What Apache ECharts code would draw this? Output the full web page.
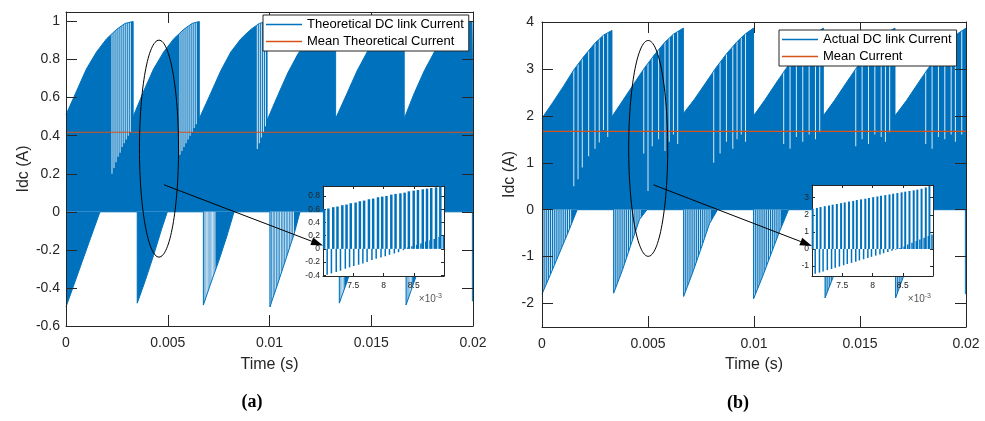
<!DOCTYPE html>
<html>
<head>
<meta charset="utf-8">
<script src="https://cdn.jsdelivr.net/npm/echarts@6/dist/echarts.min.js"></script>
<style>
  html, body { margin: 0; padding: 0; background: #fff; }
  #chart { width: 985px; height: 421px; }
</style>
</head>
<body>
<div id="chart"></div>
<script>
// (a) theoretical DC link current: envelope of the switching pulses
const timeUpperA = [
  0, 0.0005, 0.001, 0.0015, 0.002, 0.0025, 0.0029, 0.0033,
  0.0033, 0.0038, 0.0043, 0.0048, 0.0053, 0.0058, 0.0062, 0.00655,
  0.00655, 0.0071, 0.0076, 0.0081, 0.0086, 0.0091, 0.0095, 0.00988,
  0.00988, 0.0104, 0.0109, 0.0114, 0.0119, 0.0124, 0.0128, 0.01325,
  0.01325, 0.0138, 0.0143, 0.0148, 0.0153, 0.0158, 0.0162, 0.01662,
  0.01662, 0.0171, 0.0176, 0.0181, 0.0186, 0.0191, 0.0195, 0.01995, 0.02
]
const upperA = [
  0.51, 0.63, 0.75, 0.84, 0.91, 0.96, 0.99, 1.00,
  0.50, 0.63, 0.75, 0.84, 0.91, 0.96, 0.99, 1.00,
  0.49, 0.62, 0.74, 0.84, 0.91, 0.96, 0.99, 1.00,
  0.48, 0.61, 0.73, 0.83, 0.90, 0.96, 0.99, 1.00,
  0.49, 0.62, 0.74, 0.84, 0.91, 0.96, 0.99, 1.00,
  0.49, 0.62, 0.74, 0.84, 0.91, 0.96, 0.99, 1.00, 0.50
]
const timeLowerA = [
  0, 0.0004, 0.0008, 0.0012, 0.00167, 0.0035,
  0.0035, 0.0039, 0.0043, 0.0047, 0.00498, 0.00675,
  0.00675, 0.0071, 0.0075, 0.0079, 0.00826, 0.01002,
  0.01002, 0.0104, 0.0108, 0.0112, 0.0115, 0.01343,
  0.01343, 0.0138, 0.0142, 0.0146, 0.0149, 0.01671,
  0.01671, 0.0171, 0.0175, 0.0179, 0.0182, 0.01997, 0.01997, 0.02
]
const lowerA = [
  -0.50, -0.38, -0.26, -0.14, 0, 0,
  -0.48, -0.36, -0.23, -0.09, 0, 0,
  -0.49, -0.38, -0.26, -0.13, 0, 0,
  -0.50, -0.38, -0.25, -0.12, 0, 0,
  -0.48, -0.37, -0.24, -0.12, 0, 0,
  -0.49, -0.37, -0.25, -0.12, 0, 0, -0.47, -0.47
]
const meanA = 0.418
// gaps between pulses: white stripes down to a bottom level, and below zero
const gapTimeA = [
  0.00226, 0.00236, 0.00246, 0.00256, 0.00266, 0.00276, 0.00286, 0.00296, 0.00306, 0.00316,
  0.0056, 0.0057, 0.0058, 0.0059, 0.006, 0.0061, 0.0062, 0.0063, 0.0064,
  0.0094, 0.0095, 0.0096, 0.0097, 0.0098
]
const gapBottomA = [
  0.20, 0.23, 0.26, 0.29, 0.31, 0.34, 0.36, 0.38, 0.40, 0.42,
  0.30, 0.32, 0.34, 0.36, 0.38, 0.40, 0.42, 0.44, 0.46,
  0.33, 0.36, 0.39, 0.42, 0.45
]
const negGapTimeA = [
  0.00678, 0.00684, 0.0069, 0.00696, 0.00702, 0.00708, 0.00714, 0.0072, 0.00726, 0.00732,
  0.01006, 0.01014, 0.01022, 0.0103, 0.01038, 0.01046, 0.01054, 0.01062, 0.0107, 0.01078,
  0.01086, 0.01094, 0.01102, 0.0111, 0.01118,
  0.01347, 0.01353, 0.01359, 0.01365,
  0.01675, 0.01681, 0.01687, 0.01693, 0.01699
]

// (b) actual DC link current
const timeUpperB = [
  0, 0.0005, 0.001, 0.0015, 0.002, 0.0025, 0.0029, 0.0033,
  0.0033, 0.0038, 0.0043, 0.0048, 0.0053, 0.0058, 0.0062, 0.00667,
  0.00667, 0.0072, 0.0077, 0.0082, 0.0087, 0.0092, 0.0096, 0.00998,
  0.00998, 0.0105, 0.011, 0.0115, 0.012, 0.0125, 0.0129, 0.01327,
  0.01327, 0.0138, 0.0143, 0.0148, 0.0153, 0.0158, 0.0162, 0.01665,
  0.01665, 0.0172, 0.0177, 0.0182, 0.0187, 0.0192, 0.0196, 0.02
]
const upperB = [
  1.95, 2.28, 2.62, 2.98, 3.28, 3.55, 3.72, 3.82,
  1.98, 2.32, 2.66, 3.00, 3.30, 3.57, 3.74, 3.87,
  2.05, 2.36, 2.69, 3.02, 3.32, 3.58, 3.75, 3.87,
  2.00, 2.33, 2.67, 3.00, 3.31, 3.58, 3.75, 3.87,
  2.00, 2.33, 2.67, 3.00, 3.31, 3.58, 3.75, 3.87,
  2.00, 2.33, 2.67, 3.00, 3.31, 3.58, 3.75, 3.87
]
const timeLowerB = [
  0, 0.0004, 0.0008, 0.0012, 0.00166, 0.00338,
  0.00338, 0.0038, 0.0042, 0.0046, 0.00495, 0.00668,
  0.00668, 0.0071, 0.0075, 0.0079, 0.00828, 0.00998,
  0.00998, 0.0104, 0.0108, 0.0112, 0.01163, 0.01335,
  0.01335, 0.0138, 0.0142, 0.0146, 0.015, 0.01668,
  0.01668, 0.0171, 0.0175, 0.0179, 0.0183, 0.01997, 0.01997, 0.02
]
const lowerB = [
  -1.80, -1.38, -0.95, -0.52, 0, 0,
  -1.78, -1.28, -0.74, -0.21, 0, 0,
  -1.85, -1.35, -0.83, -0.30, 0, 0,
  -1.90, -1.43, -0.95, -0.47, 0, 0,
  -1.88, -1.36, -0.84, -0.34, 0, 0,
  -1.88, -1.36, -0.84, -0.32, 0, 0, -1.80, -1.80
]
const meanB = 1.67
const gapTimeB = [
  0.0015, 0.0017, 0.0019, 0.0022, 0.0025, 0.0027, 0.0029, 0.0031,
  0.0048, 0.0050, 0.0052, 0.0055, 0.0058, 0.0060, 0.0062, 0.0064,
  0.0081, 0.0084, 0.0087, 0.0090, 0.0092, 0.0094, 0.0096,
  0.0114, 0.0117, 0.0120, 0.0123, 0.0126, 0.0129, 0.0131,
  0.0148, 0.0151, 0.0154, 0.0157, 0.0160, 0.0162, 0.0164,
  0.0181, 0.0184, 0.0187, 0.0190, 0.0193, 0.0195, 0.0198
]
const gapBottomB = [
  0.50, 0.65, 0.90, 1.14, 1.30, 1.43, 1.70, 1.55,
  1.20, 0.40, 1.35, 1.50, 1.25, 1.45, 1.60, 1.40,
  1.00, 1.20, 1.45, 1.30, 1.50, 1.60, 1.45,
  1.40, 1.30, 1.55, 1.45, 1.60, 1.50, 1.65,
  1.35, 1.50, 1.40, 1.60, 1.55, 1.45, 1.65,
  1.40, 1.30, 1.55, 1.50, 1.60, 1.45, 1.60
]
const negGapTimeB = [
  0.00005, 0.00015, 0.00025, 0.00035, 0.00045, 0.00055, 0.00065, 0.00075, 0.00085, 0.00095, 0.00105, 0.00115, 0.00125, 0.00135,
  0.00343, 0.00353, 0.00363, 0.00373, 0.00383, 0.00393, 0.00403, 0.00413, 0.00423, 0.00433, 0.00443, 0.00453, 0.00463,
  0.00673, 0.00683, 0.00693, 0.00703, 0.00713, 0.00723, 0.00733, 0.00743, 0.00753, 0.00763, 0.00773, 0.00783, 0.00793,
  0.01003, 0.01013, 0.01023, 0.01033, 0.01043, 0.01053, 0.01063, 0.01073, 0.01083, 0.01093, 0.01103, 0.01113, 0.01123,
  0.0134, 0.0135, 0.0136, 0.0137,
  0.01673, 0.01683, 0.01693, 0.01703
]

// zoomed insets, time in ms (x10^-3 s)
const insetTimeA = [
  7.04, 7.11, 7.19, 7.26, 7.34, 7.41, 7.48, 7.56, 7.63, 7.70, 7.78, 7.85, 7.93, 8.00,
  8.07, 8.15, 8.22, 8.30, 8.37, 8.44, 8.52, 8.59, 8.67, 8.74, 8.81, 8.89, 8.96
]
const insetHighA = [
  0.60, 0.61, 0.63, 0.64, 0.66, 0.67, 0.69, 0.70, 0.72, 0.73, 0.75, 0.76, 0.78, 0.79,
  0.80, 0.82, 0.83, 0.84, 0.85, 0.87, 0.88, 0.89, 0.90, 0.91, 0.92, 0.93, 0.94
]
const insetLowA = [
  -0.39, -0.37, -0.35, -0.33, -0.30, -0.28, -0.26, -0.24, -0.22, -0.20, -0.17, -0.15, -0.13, -0.11,
  -0.09, -0.07, -0.05, -0.02, 0.02, 0.04, 0.06, 0.08, 0.11, 0.13, 0.15, 0.18, 0.20
]
const insetTimeB = [
  7.03, 7.10, 7.16, 7.23, 7.30, 7.36, 7.43, 7.50, 7.56, 7.63, 7.70, 7.76, 7.83, 7.90, 7.96,
  8.03, 8.10, 8.16, 8.23, 8.30, 8.36, 8.43, 8.50, 8.56, 8.63, 8.70, 8.76, 8.83, 8.90, 8.96
]
const insetHighB = [
  2.35, 2.40, 2.45, 2.50, 2.54, 2.59, 2.63, 2.68, 2.72, 2.77, 2.81, 2.86, 2.90, 2.94, 2.98,
  3.03, 3.07, 3.11, 3.15, 3.19, 3.23, 3.27, 3.31, 3.35, 3.39, 3.43, 3.47, 3.52, 3.60, 3.68
]
const insetLowB = [
  -1.45, -1.38, -1.31, -1.24, -1.17, -1.10, -1.03, -0.95, -0.88, -0.81, -0.74, -0.67, -0.60, -0.53, -0.46,
  -0.39, -0.32, -0.25, -0.18, -0.11, -0.04, 0.05, 0.15, 0.26, 0.36, 0.46, 0.56, 0.66, 0.76, 0.85
]

// tick values
const timeTicks = [0, 0.005, 0.01, 0.015, 0.02]
const currentTicksA = [-0.6, -0.4, -0.2, 0, 0.2, 0.4, 0.6, 0.8, 1]
const currentTicksB = [-2, -1, 0, 1, 2, 3, 4]
const insetTimeTicks = [7.5, 8, 8.5]
const insetTicksA = [-0.4, -0.2, 0, 0.2, 0.4, 0.6, 0.8]
const insetTicksB = [-1, 0, 1, 2, 3]

// annotations: ellipse [t, y, rt, ry] and arrow start in main data, arrow end in inset data
const ellipseA = [0.00457, 0.332, 0.00096, 0.57]
const ellipseB = [0.00501, 1.306, 0.00092, 2.30]
const arrowStartA = [0.004816, 0.142]
const arrowEndA = [7.0, 0.05]
const arrowStartB = [0.00526, 0.53]
const arrowEndB = [7.0, 0.18]

const rangeA = [-0.6, 1.05]
const rangeB = [-2.5, 4]

const blue = '#0072BD'
const orange = '#D95319'
const ink = '#262626'
const font = 'Liberation Sans'

const zip = (xs, ys) => xs.map((x, i) => [x, ys[i]])

function frameAxis (grid, position, range, ticks, tickLen, z, label) {
  return {
    gridIndex: grid,
    type: 'value',
    position,
    min: range[0],
    max: range[1],
    z,
    axisLine: { show: true, onZero: false, lineStyle: { color: ink, width: 1 } },
    axisTick: { show: true, inside: true, length: tickLen, customValues: ticks, lineStyle: { color: ink } },
    axisLabel: label || { show: false, customValues: ticks },
    splitLine: { show: false }
  }
}

// hidden axis measured downward from the top of a panel, used to hang the gap stripes
function depthAxis (grid, range) {
  return { gridIndex: grid, type: 'value', show: false, inverse: true, min: 0, max: range[1] - range[0] }
}

function mainLabel (ticks, margin) {
  return { show: true, customValues: ticks, fontSize: 14, color: ink, fontFamily: font, margin }
}

function insetLabel (ticks, margin) {
  return { show: true, customValues: ticks, fontSize: 8.5, color: ink, fontFamily: font, margin }
}

const nameStyle = { fontSize: 16, color: ink, fontFamily: font }
const insetName = {
  name: '×10{sup|-3}',
  nameLocation: 'end',
  nameGap: -2,
  nameTextStyle: {
    align: 'right', verticalAlign: 'top', padding: [17, 0, 0, 0],
    fontSize: 10, color: '#555', fontFamily: font,
    rich: { sup: { fontSize: 7, color: '#555', verticalAlign: 'top', padding: [0, 0, 5, 0] } }
  }
}

const xAxes = [
  Object.assign(frameAxis(0, 'bottom', [0, 0.02], timeTicks, 11, 3, mainLabel(timeTicks, 10)),
    { name: 'Time (s)', nameLocation: 'middle', nameGap: 31, nameTextStyle: nameStyle }),
  frameAxis(0, 'top', [0, 0.02], timeTicks, 11, 3),
  Object.assign(frameAxis(1, 'bottom', [0, 0.02], timeTicks, 11, 3, mainLabel(timeTicks, 10)),
    { name: 'Time (s)', nameLocation: 'middle', nameGap: 30, nameTextStyle: nameStyle }),
  frameAxis(1, 'top', [0, 0.02], timeTicks, 11, 3),
  Object.assign(frameAxis(2, 'bottom', [7.0, 9.0], insetTimeTicks, 3, 12, insetLabel(insetTimeTicks, 5)), insetName),
  frameAxis(2, 'top', [7.0, 9.0], insetTimeTicks, 3, 12),
  Object.assign(frameAxis(3, 'bottom', [7.0, 9.0], insetTimeTicks, 3, 12, insetLabel(insetTimeTicks, 5)), insetName),
  frameAxis(3, 'top', [7.0, 9.0], insetTimeTicks, 3, 12)
]

const yAxes = [
  Object.assign(frameAxis(0, 'left', rangeA, currentTicksA, 11, 3, mainLabel(currentTicksA, 6)),
    { name: 'Idc (A)', nameLocation: 'middle', nameGap: 34, nameTextStyle: nameStyle }),
  frameAxis(0, 'right', rangeA, currentTicksA, 11, 3),
  Object.assign(frameAxis(1, 'left', rangeB, currentTicksB, 11, 3, mainLabel(currentTicksB, 8)),
    { name: 'Idc (A)', nameLocation: 'middle', nameGap: 24, nameTextStyle: nameStyle }),
  frameAxis(1, 'right', rangeB, currentTicksB, 11, 3),
  frameAxis(2, 'left', [-0.41, 0.95], insetTicksA, 3, 12, insetLabel(insetTicksA, 3)),
  frameAxis(2, 'right', [-0.41, 0.95], insetTicksA, 3, 12),
  frameAxis(3, 'left', [-1.58, 3.74], insetTicksB, 3, 12, insetLabel(insetTicksB, 3)),
  frameAxis(3, 'right', [-1.58, 3.74], insetTicksB, 3, 12),
  depthAxis(0, rangeA),
  depthAxis(1, rangeB)
]

function envelope (name, x, y, data) {
  return {
    name,
    type: 'line',
    xAxisIndex: x,
    yAxisIndex: y,
    data,
    showSymbol: false,
    color: blue,
    lineStyle: { color: blue, width: 1 },
    areaStyle: { color: blue, opacity: 1, origin: 'auto' },
    z: 2,
    silent: true
  }
}

function meanLine (name, x, y, value) {
  return {
    name,
    type: 'line',
    xAxisIndex: x,
    yAxisIndex: y,
    data: [[0, value], [0.02, value]],
    showSymbol: false,
    color: orange,
    lineStyle: { color: orange, width: 1.2 },
    z: 2,
    silent: true
  }
}

// white stripes hanging from the panel top down to a bottom level
function gapSeries (x, y, times, bottoms, top) {
  return {
    type: 'bar',
    xAxisIndex: x,
    yAxisIndex: y,
    data: zip(times, bottoms.map(b => top - b)),
    barWidth: 1,
    barGap: '-100%',
    itemStyle: { color: '#fff', opacity: 0.85 },
    z: 2,
    silent: true
  }
}

function negGapSeries (x, y, times, bottom) {
  return {
    type: 'bar',
    xAxisIndex: x,
    yAxisIndex: y,
    data: times.map(t => [t, bottom]),
    barWidth: 0.9,
    barGap: '-100%',
    itemStyle: { color: '#fff', opacity: 0.8 },
    z: 2,
    silent: true
  }
}

function pulses (x, y, data, width) {
  return {
    type: 'bar',
    xAxisIndex: x,
    yAxisIndex: y,
    data,
    barWidth: width,
    barGap: '40%',
    itemStyle: { color: blue },
    z: 13,
    silent: true
  }
}

function legendBox (left, top, names) {
  return {
    left,
    top,
    orient: 'vertical',
    data: names,
    icon: 'rect',
    itemWidth: 36,
    itemHeight: 1.5,
    itemGap: 4,
    padding: [3, 5, 3, 3],
    borderColor: ink,
    borderWidth: 1,
    backgroundColor: '#fff',
    textStyle: { fontSize: 13, color: '#000', fontFamily: font }
  }
}

const chart = echarts.init(document.getElementById('chart'))

const option = {
  animation: false,
  backgroundColor: '#fff',
  grid: [
    { left: 66, top: 12, width: 407, height: 314 },
    { left: 542, top: 22, width: 424, height: 305 },
    { left: 323, top: 186, width: 121, height: 90, show: true, backgroundColor: '#fff', borderWidth: 0, z: 10 },
    { left: 812, top: 185, width: 121, height: 91, show: true, backgroundColor: '#fff', borderWidth: 0, z: 10 }
  ],
  legend: [
    legendBox(263, 15, ['Theoretical DC link Current', 'Mean Theoretical Current']),
    legendBox(779, 30, ['Actual DC link Current', 'Mean Current'])
  ],
  xAxis: xAxes,
  yAxis: yAxes,
  series: [
    envelope('Theoretical DC link Current', 0, 0, zip(timeUpperA, upperA)),
    envelope('Theoretical DC link Current', 0, 0, zip(timeLowerA, lowerA)),
    gapSeries(0, 8, gapTimeA, gapBottomA, rangeA[1]),
    negGapSeries(0, 0, negGapTimeA, rangeA[0]),
    meanLine('Mean Theoretical Current', 0, 0, meanA),
    envelope('Actual DC link Current', 2, 2, zip(timeUpperB, upperB)),
    envelope('Actual DC link Current', 2, 2, zip(timeLowerB, lowerB)),
    gapSeries(2, 9, gapTimeB, gapBottomB, rangeB[1]),
    negGapSeries(2, 2, negGapTimeB, rangeB[0]),
    meanLine('Mean Current', 2, 2, meanB),
    pulses(4, 4, zip(insetTimeA, insetHighA), 2.5),
    pulses(4, 4, zip(insetTimeA, insetLowA), 1.5),
    pulses(6, 6, zip(insetTimeB, insetHighB), 2),
    pulses(6, 6, zip(insetTimeB, insetLowB), 1.5)
  ]
}

chart.setOption(option)

// ellipse, arrow and panel captions placed from data coordinates
function px (xi, yi, v) {
  return chart.convertToPixel({ xAxisIndex: xi, yAxisIndex: yi }, v)
}

function ring (xi, yi, e) {
  const c = px(xi, yi, [e[0], e[1]])
  const r = px(xi, yi, [e[0] + e[2], e[1] + e[3]])
  return {
    type: 'ellipse',
    shape: { cx: c[0], cy: c[1], rx: r[0] - c[0], ry: c[1] - r[1] },
    style: { fill: 'none', stroke: '#000', lineWidth: 1 },
    z: 20
  }
}

function arrow (from, to) {
  const dx = to[0] - from[0]
  const dy = to[1] - from[1]
  const len = Math.hypot(dx, dy)
  const ux = dx / len
  const uy = dy / len
  const head = 12
  const half = 4
  const bx = to[0] - ux * head
  const by = to[1] - uy * head
  return [
    { type: 'line', shape: { x1: from[0], y1: from[1], x2: bx, y2: by }, style: { stroke: '#000', lineWidth: 1 }, z: 20 },
    {
      type: 'polygon',
      shape: { points: [to, [bx - uy * half, by + ux * half], [bx + uy * half, by - ux * half]] },
      style: { fill: '#000' },
      z: 20
    }
  ]
}

function caption (text, x, y) {
  return {
    type: 'text',
    x,
    y,
    style: { text, fill: '#000', font: 'bold 18px "Liberation Serif"', textAlign: 'center', textVerticalAlign: 'middle' },
    z: 20
  }
}

chart.setOption({
  graphic: [
    ring(0, 0, ellipseA),
    ring(2, 2, ellipseB),
    ...arrow(px(0, 0, arrowStartA), px(4, 4, arrowEndA)),
    ...arrow(px(2, 2, arrowStartB), px(6, 6, arrowEndB)),
    caption('(a)', 252, 402),
    caption('(b)', 738, 403)
  ]
})
</script>
</body>
</html>
